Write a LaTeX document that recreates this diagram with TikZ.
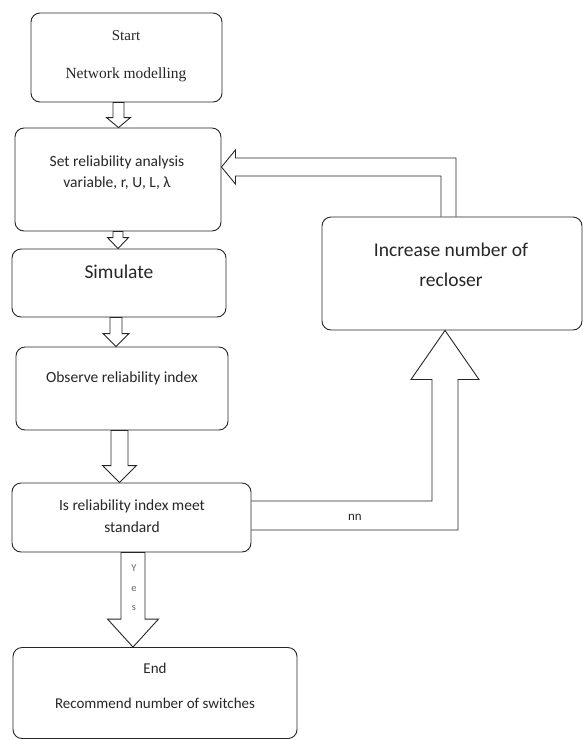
\documentclass[tikz,border=0pt]{standalone}
\usepackage{fontspec}
\setmainfont{Carlito}
\newfontfamily\serifbox{Liberation Serif}
\usetikzlibrary{positioning,calc}

\tikzset{
  box/.style={draw=black!85, line width=0.9pt, rounded corners=9pt, inner sep=0pt},
  arrowline/.style={draw=black!85, line width=0.9pt, line join=miter},
  txt/.style={inner sep=0pt, align=center, text=black!85},
}

% hollow block arrow going down: from, to, tip shift, shaft half, head half, head length
\newcommand{\blockdown}[6]{%
  \coordinate (tip) at ($(#2.north)+(#3,0)$);
  \draw[arrowline] (tip) -- ++(-#5,-#6) -- ++(#5-#4,0) -- ($(tip |- #1.south)+(-#4,0)$)
    -- ($(tip |- #1.south)+(#4,0)$) -- ($(tip)+(#4,-#6)$) -- ++(#5-#4,0) -- cycle;}

\begin{document}
\begin{tikzpicture}[x=1pt,y=-1pt]
    \useasboundingbox (0,0) rectangle (583,740);
    % boxes
    \node[box, minimum width=191pt, minimum height=89pt] (start) at (126.5,57.5) {};
    \node[box, minimum width=206pt, minimum height=103pt] (setvar) at (118,179.5) {};
    \node[box, minimum width=214pt, minimum height=68pt] (simulate) at (119,283) {};
    \node[box, minimum width=212pt, minimum height=83pt] (observe) at (122,388.5) {};
    \node[box, minimum width=239pt, minimum height=69pt] (check) at (131.5,517.5) {};
    \node[box, minimum width=284pt, minimum height=91pt] (finish) at (155,693) {};
    \node[box, minimum width=260pt, minimum height=113pt] (recloser) at (452,273.5) {};
    % texts
    \node[txt, font=\serifbox\fontsize{15}{18}\selectfont] (starttxt) at (126,36) {Start};
    \node[txt, font=\serifbox\fontsize{15.5}{18}\selectfont] (netmodel) at (126,75) {Network modelling};
    \node[txt, font=\fontsize{15.5}{21}\selectfont] (settxt) at (117,172.5) {Set reliability analysis\\variable, r, U, L, λ};
    \node[txt, font=\fontsize{19.5}{24}\selectfont] (simtxt) at (119,272) {Simulate};
    \node[txt, font=\fontsize{15.5}{21}\selectfont] (obstxt) at (122,378) {Observe reliability index};
    \node[txt, font=\fontsize{15.5}{22}\selectfont] (checktxt) at (132,516) {Is reliability index meet\\standard};
    \node[txt, font=\fontsize{15}{18}\selectfont] (endtxt) at (155,668) {End};
    \node[txt, font=\fontsize{15}{18}\selectfont] (recommend) at (155,703) {Recommend number of switches};
    \node[txt, font=\fontsize{19.5}{30}\selectfont] (rectxt) at (451,265) {Increase number of\\recloser};
    % down arrows
    \blockdown{start}{setvar}{0.5}{5.5}{12}{10}
    \blockdown{setvar}{simulate}{-1}{5}{10.5}{11}
    \blockdown{simulate}{observe}{-6}{6}{13}{13}
    \blockdown{observe}{check}{-12}{8.5}{17}{17}
    \blockdown{check}{finish}{-22}{12}{25.5}{28}
    \node[txt, text=black!60, font=\fontsize{10.5}{19.5}\selectfont] (yes) at (134,588) {Y\\e\\s};
    % no branch up to recloser
    \coordinate (notip) at ([xshift=-7pt]recloser.south);
    \draw[arrowline] ([yshift=16.5pt]check.east) -| ($(notip)+(-13,49)$) -- ++(-21,0) -- (notip)
      -- ++(34,49) -- ++(-21,0) |- ([yshift=-12.5pt]check.east);
    \node[txt, font=\fontsize{13}{15}\selectfont] (nolabel) at (355,517) {nn};
    % back to the variables
    \coordinate (backtip) at ([yshift=12.5pt]setvar.east);
    \draw[arrowline] ([xshift=-11pt]recloser.north) |- ($(backtip)+(14,9)$) -- ++(0,8) -- (backtip)
      -- ++(14,-17) -- ++(0,8) -| ([xshift=4pt]recloser.north);
\end{tikzpicture}
\end{document}
